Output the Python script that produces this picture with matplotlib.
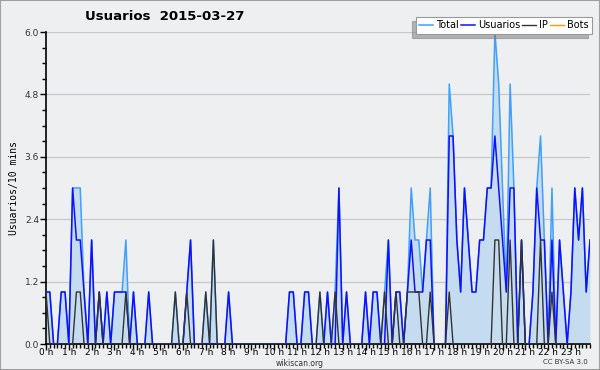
import numpy as np
import matplotlib
matplotlib.use("Agg")
import matplotlib.pyplot as plt
from matplotlib.patches import Rectangle
from matplotlib.ticker import MultipleLocator

# ******* data: one value per 10 minutes, 00:00 -> 23:50 *******

total = [1, 1, 0, 0, 1, 1, 0, 3, 3, 3, 1, 0, 2, 0, 1, 0, 1, 0, 1, 1, 1, 2, 0, 1,
         0, 0, 0, 1, 0, 0, 0, 0, 0, 0, 1, 0, 0, 1, 2, 0, 0, 0, 1, 0, 2, 0, 0, 0,
         1, 0, 0, 0, 0, 0, 0, 0, 0, 0, 0, 0, 0, 0, 0, 0, 1, 1, 0, 0, 1, 1, 0, 0,
         1, 0, 1, 0, 1, 3, 0, 1, 0, 0, 0, 0, 1, 0, 1, 1, 0, 1, 2, 0, 1, 1, 0, 1,
         3, 2, 2, 1, 2, 3, 0, 0, 0, 0, 5, 4, 2, 1, 3, 2, 1, 1, 2, 2, 3, 3, 6, 5,
         3, 1, 5, 3, 0, 2, 0, 0, 1, 3, 4, 2, 0, 3, 0, 2, 1, 0, 1, 3, 2, 3, 1, 2]

usuarios = [1, 1, 0, 0, 1, 1, 0, 3, 2, 2, 1, 0, 2, 0, 1, 0, 1, 0, 1, 1, 1, 1, 0, 1,
            0, 0, 0, 1, 0, 0, 0, 0, 0, 0, 0, 0, 0, 1, 2, 0, 0, 0, 0, 0, 0, 0, 0, 0,
            1, 0, 0, 0, 0, 0, 0, 0, 0, 0, 0, 0, 0, 0, 0, 0, 1, 1, 0, 0, 1, 1, 0, 0,
            0, 0, 1, 0, 0, 3, 0, 1, 0, 0, 0, 0, 1, 0, 1, 1, 0, 0, 2, 0, 1, 1, 0, 1,
            2, 1, 1, 1, 2, 2, 0, 0, 0, 0, 4, 4, 2, 1, 3, 2, 1, 1, 2, 2, 3, 3, 4, 3,
            2, 1, 3, 3, 0, 2, 0, 0, 1, 3, 2, 2, 0, 2, 0, 2, 1, 0, 1, 3, 2, 3, 1, 2]

ip = [1, 0, 0, 0, 0, 0, 0, 0, 1, 1, 0, 0, 0, 0, 1, 0, 0, 0, 0, 0, 0, 1, 0, 0,
      0, 0, 0, 0, 0, 0, 0, 0, 0, 0, 1, 0, 0, 1, 0, 0, 0, 0, 1, 0, 2, 0, 0, 0,
      0, 0, 0, 0, 0, 0, 0, 0, 0, 0, 0, 0, 0, 0, 0, 0, 0, 0, 0, 0, 0, 0, 0, 0,
      1, 0, 0, 0, 1, 0, 0, 0, 0, 0, 0, 0, 0, 0, 0, 0, 0, 1, 0, 0, 1, 0, 0, 1,
      1, 1, 1, 0, 0, 1, 0, 0, 0, 0, 1, 0, 0, 0, 0, 0, 0, 0, 0, 0, 0, 0, 2, 2,
      0, 0, 2, 0, 0, 2, 0, 0, 0, 0, 2, 0, 0, 1, 0, 0, 0, 0, 0, 0, 0, 0, 0, 0]

bots = [0] * 144

hour_labels = ["%d h" % h for h in range(24)]
title = "Usuarios  2015-03-27"

# **********************************

bg = "#eeeff0"
slots = np.arange(len(total)) / 6.0

fig = plt.figure(figsize=(6, 3.7), dpi=100, facecolor=bg)
ax = fig.add_axes([46 / 600, 26 / 370, 544 / 600, 312 / 370])
ax.set_facecolor(bg)

ax.fill_between(slots, total, 0, color="#c5dcf0", lw=0, zorder=1)
ax.plot(slots, bots, color="#ff9900", lw=1, label="Bots", zorder=2)
ax.plot(slots, total, color="#3fa0ff", lw=1.1, label="Total", zorder=3)
ax.plot(slots, usuarios, color="#1010ff", lw=1.1, label="Usuarios", zorder=4)
ax.plot(slots, ip, color="#333333", lw=1.0, label="IP", zorder=5)

ax.set_xlim(0, slots[-1])
ax.set_ylim(0, 6.0)
ax.set_yticks(np.arange(0, 6.01, 1.2))
ax.set_yticklabels(["%.1f" % v for v in np.arange(0, 6.01, 1.2)])
ax.yaxis.set_minor_locator(MultipleLocator(0.3))
ax.set_xticks(range(24))
ax.set_xticklabels(hour_labels)
ax.xaxis.set_minor_locator(MultipleLocator(1 / 6))
ax.grid(axis="y", color="#c8c8c8", lw=0.9, zorder=0)
ax.set_axisbelow(True)

for s in ["top", "right"]:
    ax.spines[s].set_visible(False)
ax.spines["left"].set_linewidth(1.2)
ax.spines["bottom"].set_linewidth(1.2)
ax.tick_params(axis="both", which="major", labelsize=6.5, length=4, width=1, pad=1)
ax.tick_params(axis="both", which="minor", length=3, width=1)
ax.tick_params(axis="x", which="major", pad=-1)
ax.tick_params(axis="y", labelcolor="#333333")

ax.set_ylabel("Usuarios/10 mins", fontsize=7, family="DejaVu Sans Mono", labelpad=4)

fig.text(85 / 600, 1 - 17 / 370, title, fontsize=9.5, weight="bold", va="center", ha="left")
fig.text(0.5, 1 - 363 / 370, "wikiscan.org", fontsize=5.5, ha="center", va="center", color="#333333")
fig.text(588 / 600, 1 - 362 / 370, "CC BY-SA 3.0", fontsize=5, ha="right", va="center", color="#333333")

handles, labels = ax.get_legend_handles_labels()
order = [labels.index(n) for n in ["Total", "Usuarios", "IP", "Bots"]]
leg = fig.legend([handles[i] for i in order], [labels[i] for i in order],
                 loc="upper right", bbox_to_anchor=(592 / 600, 1 - 17 / 370), ncol=4,
                 fontsize=7, frameon=True, fancybox=False,
                 shadow={"ox": -3, "oy": -3, "color": "#777777"},
                 handlelength=1.4, handletextpad=0.35, columnspacing=0.2,
                 borderpad=0.35, borderaxespad=0)
leg.get_frame().set_edgecolor("#999999")
leg.get_frame().set_linewidth(0.8)

fig.patches.append(Rectangle((0, 0), 1, 1, transform=fig.transFigure, fill=False,
                             edgecolor="#a0a0a0", lw=1.5))

fig.savefig("out.png", dpi=100, facecolor=bg)
